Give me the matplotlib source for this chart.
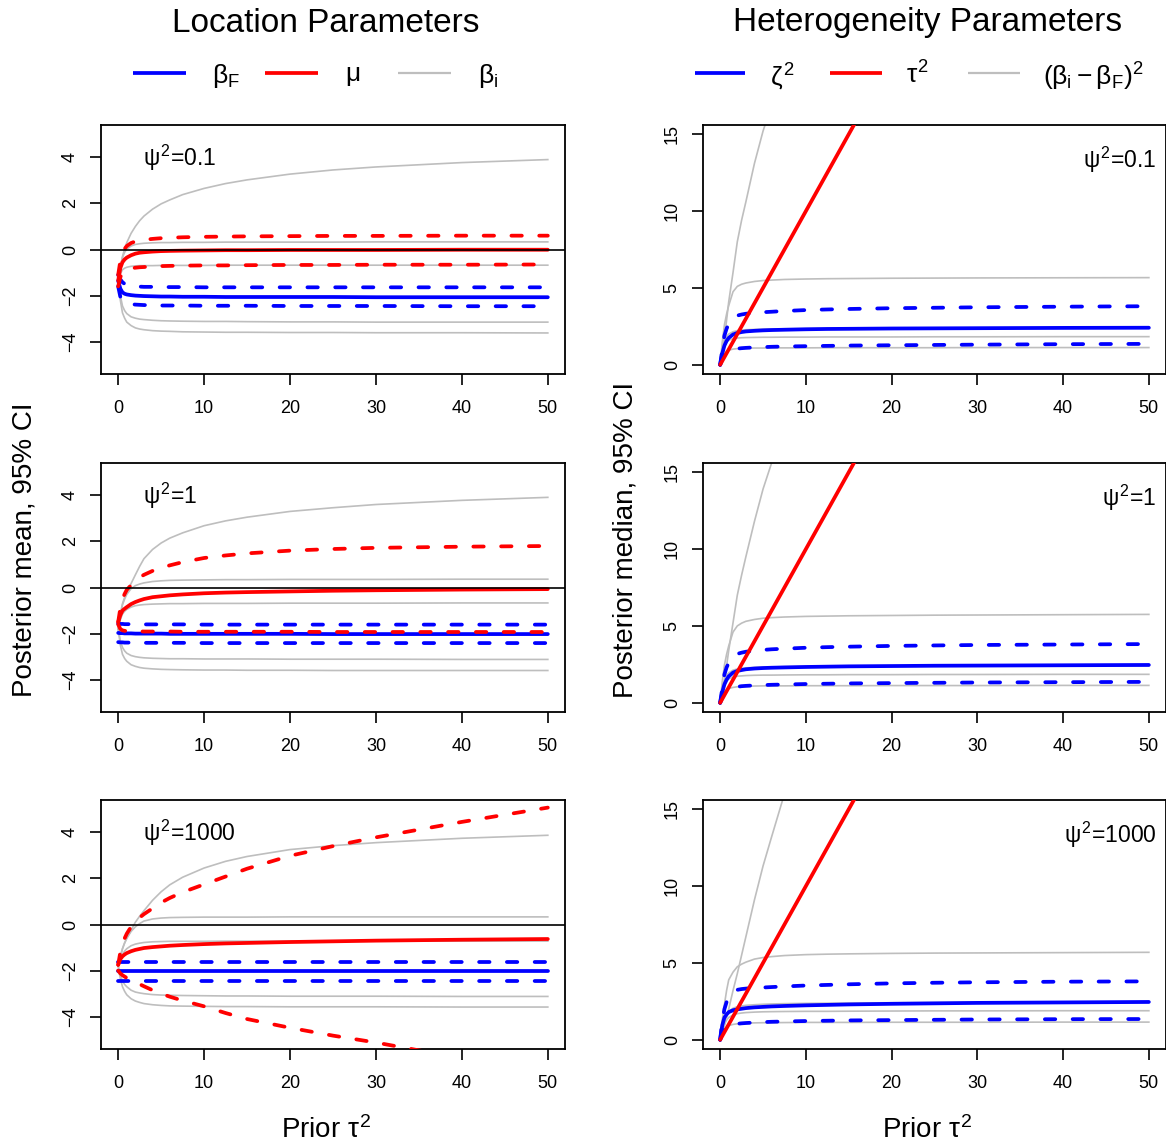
import matplotlib
matplotlib.use('Agg')
import matplotlib.pyplot as plt
from matplotlib.lines import Line2D

plt.rcParams['font.family'] = ['Liberation Sans', 'DejaVu Sans']
plt.rcParams['mathtext.fontset'] = 'custom'
plt.rcParams['mathtext.rm'] = 'Liberation Sans'
plt.rcParams['mathtext.it'] = 'Liberation Sans'
plt.rcParams['mathtext.bf'] = 'Liberation Sans:bold'
plt.rcParams['lines.scale_dashes'] = False

# prior tau^2 grid (x axis of every panel)
tau = [0, 0.25, 0.5, 0.75, 1, 1.5, 2, 2.5, 3, 4, 5, 6, 7.5, 10, 12.5, 15, 20, 25, 30, 40, 50]

psi_labels = ['0.1', '1', '1000']

# ---- location parameters (left column) ----
l1_grey = [
    [-1.4, -0.8, -0.3, 0.02, 0.3, 0.7, 1.0, 1.25, 1.45, 1.75, 1.98, 2.15, 2.38, 2.65, 2.86, 3.02, 3.27, 3.45, 3.58, 3.77, 3.9],
    [-1.4, -0.8, -0.35, -0.12, 0.02, 0.15, 0.22, 0.25, 0.27, 0.29, 0.3, 0.3, 0.31, 0.31, 0.32, 0.32, 0.32, 0.32, 0.33, 0.33, 0.33],
    [-1.4, -1.05, -0.88, -0.81, -0.77, -0.73, -0.71, -0.7, -0.7, -0.7, -0.69, -0.69, -0.69, -0.69, -0.68, -0.68, -0.68, -0.68, -0.68, -0.68, -0.68],
    [-1.4, -2.0, -2.45, -2.65, -2.78, -2.92, -2.98, -3.02, -3.04, -3.07, -3.09, -3.1, -3.11, -3.12, -3.12, -3.13, -3.14, -3.14, -3.15, -3.15, -3.15],
    [-1.4, -2.2, -2.75, -2.98, -3.15, -3.3, -3.4, -3.45, -3.48, -3.52, -3.54, -3.55, -3.57, -3.58, -3.59, -3.59, -3.6, -3.6, -3.61, -3.61, -3.62],
]
l1_blue_mid = [-1.35, -1.7, -1.86, -1.92, -1.95, -1.98, -2.0, -2.01, -2.02, -2.03, -2.04, -2.04, -2.05, -2.05, -2.06, -2.06, -2.06, -2.06, -2.07, -2.07, -2.07]
l1_blue_hi = [-1.1, -1.3, -1.42, -1.49, -1.53, -1.58, -1.6, -1.61, -1.62, -1.62, -1.63, -1.63, -1.63, -1.64, -1.64, -1.64, -1.64, -1.64, -1.64, -1.64, -1.64]
l1_blue_lo = [-1.6, -2.05, -2.2, -2.28, -2.32, -2.37, -2.39, -2.4, -2.41, -2.42, -2.43, -2.43, -2.43, -2.44, -2.44, -2.44, -2.45, -2.45, -2.45, -2.46, -2.46]
l1_red_mid = [-1.35, -0.8, -0.55, -0.43, -0.35, -0.25, -0.18, -0.14, -0.12, -0.09, -0.07, -0.06, -0.05, -0.04, -0.03, -0.03, -0.02, -0.02, -0.02, -0.01, -0.01]
l1_red_hi = [-1.1, -0.5, -0.15, 0.03, 0.15, 0.28, 0.35, 0.39, 0.42, 0.46, 0.49, 0.51, 0.53, 0.55, 0.56, 0.57, 0.58, 0.59, 0.59, 0.6, 0.6]
l1_red_lo = [-1.6, -1.2, -1.0, -0.93, -0.88, -0.82, -0.79, -0.77, -0.76, -0.74, -0.72, -0.71, -0.7, -0.69, -0.69, -0.68, -0.67, -0.67, -0.66, -0.66, -0.65]

l2_grey = [
    [-1.8, -1.15, -0.7, -0.43, -0.22, 0.17, 0.55, 0.92, 1.25, 1.65, 1.93, 2.14, 2.37, 2.68, 2.89, 3.05, 3.3, 3.46, 3.6, 3.78, 3.91],
    [-1.8, -1.2, -0.75, -0.5, -0.3, -0.05, 0.08, 0.15, 0.2, 0.26, 0.29, 0.31, 0.32, 0.33, 0.34, 0.34, 0.35, 0.35, 0.35, 0.36, 0.36],
    [-1.8, -1.4, -1.15, -1.03, -0.95, -0.85, -0.79, -0.76, -0.74, -0.72, -0.71, -0.7, -0.7, -0.69, -0.69, -0.69, -0.68, -0.68, -0.68, -0.67, -0.67],
    [-1.8, -2.3, -2.6, -2.75, -2.85, -2.95, -3.0, -3.03, -3.05, -3.07, -3.08, -3.09, -3.09, -3.1, -3.1, -3.1, -3.11, -3.11, -3.11, -3.12, -3.12],
    [-1.8, -2.5, -2.9, -3.08, -3.2, -3.35, -3.42, -3.47, -3.5, -3.53, -3.55, -3.56, -3.57, -3.58, -3.58, -3.59, -3.59, -3.6, -3.6, -3.6, -3.6],
]
l2_blue_mid = [-1.97, -1.98, -1.98, -1.99, -1.99, -1.99, -2.0, -2.0, -2.0, -2.0, -2.0, -2.01, -2.01, -2.01, -2.01, -2.01, -2.01, -2.02, -2.02, -2.02, -2.02]
l2_blue_hi = [-1.57, -1.58, -1.58, -1.59, -1.59, -1.59, -1.6, -1.6, -1.6, -1.6, -1.6, -1.6, -1.6, -1.61, -1.61, -1.61, -1.61, -1.61, -1.61, -1.61, -1.61]
l2_blue_lo = [-2.37, -2.38, -2.38, -2.39, -2.39, -2.39, -2.4, -2.4, -2.4, -2.4, -2.4, -2.4, -2.4, -2.41, -2.41, -2.41, -2.41, -2.41, -2.41, -2.41, -2.41]
l2_red_mid = [-1.5, -1.2, -1.0, -0.92, -0.85, -0.72, -0.63, -0.56, -0.5, -0.42, -0.38, -0.34, -0.3, -0.25, -0.22, -0.2, -0.17, -0.14, -0.12, -0.09, -0.07]
l2_red_hi = [-1.5, -0.9, -0.5, -0.28, -0.1, 0.1, 0.3, 0.44, 0.55, 0.72, 0.85, 0.96, 1.1, 1.28, 1.39, 1.48, 1.6, 1.67, 1.72, 1.77, 1.8]
l2_red_lo = [-1.6, -1.8, -1.86, -1.88, -1.89, -1.9, -1.9, -1.9, -1.91, -1.91, -1.91, -1.91, -1.92, -1.92, -1.92, -1.92, -1.92, -1.93, -1.93, -1.93, -1.93]

l3_grey = [
    [-1.8, -1.4, -1.05, -0.8, -0.6, -0.25, 0.1, 0.36, 0.6, 1.05, 1.42, 1.72, 2.05, 2.45, 2.74, 2.95, 3.25, 3.42, 3.55, 3.74, 3.87],
    [-1.8, -1.4, -1.05, -0.8, -0.6, -0.3, -0.1, 0.04, 0.15, 0.24, 0.28, 0.3, 0.31, 0.32, 0.32, 0.32, 0.33, 0.33, 0.33, 0.33, 0.33],
    [-1.8, -1.5, -1.3, -1.15, -1.05, -0.92, -0.85, -0.81, -0.78, -0.75, -0.74, -0.73, -0.73, -0.73, -0.72, -0.72, -0.72, -0.72, -0.72, -0.72, -0.72],
    [-1.8, -2.2, -2.45, -2.6, -2.7, -2.85, -2.93, -2.97, -3.0, -3.04, -3.06, -3.07, -3.08, -3.09, -3.1, -3.1, -3.11, -3.11, -3.11, -3.12, -3.12],
    [-1.8, -2.35, -2.7, -2.9, -3.05, -3.22, -3.32, -3.38, -3.43, -3.48, -3.51, -3.53, -3.54, -3.55, -3.56, -3.56, -3.57, -3.57, -3.57, -3.58, -3.58],
]
l3_blue_mid = [-2.03, -2.03, -2.03, -2.03, -2.03, -2.03, -2.03, -2.03, -2.03, -2.03, -2.03, -2.03, -2.03, -2.03, -2.03, -2.03, -2.03, -2.03, -2.03, -2.03, -2.03]
l3_blue_hi = [-1.64, -1.64, -1.64, -1.64, -1.64, -1.64, -1.64, -1.64, -1.64, -1.64, -1.64, -1.64, -1.64, -1.64, -1.64, -1.64, -1.64, -1.64, -1.64, -1.64, -1.64]
l3_blue_lo = [-2.43, -2.43, -2.43, -2.43, -2.43, -2.43, -2.43, -2.43, -2.43, -2.43, -2.43, -2.43, -2.43, -2.43, -2.43, -2.43, -2.43, -2.43, -2.43, -2.43, -2.43]
l3_red_mid = [-1.75, -1.5, -1.38, -1.3, -1.24, -1.16, -1.1, -1.06, -1.02, -0.98, -0.95, -0.92, -0.89, -0.85, -0.82, -0.8, -0.76, -0.73, -0.7, -0.66, -0.63]
l3_red_hi = [-1.75, -1.2, -0.85, -0.6, -0.4, -0.1, 0.12, 0.3, 0.45, 0.7, 0.95, 1.15, 1.4, 1.74, 2.08, 2.42, 2.98, 3.4, 3.78, 4.45, 5.07]
l3_red_lo = [-2.0, -2.12, -2.2, -2.26, -2.32, -2.42, -2.5, -2.59, -2.68, -2.85, -3.0, -3.13, -3.3, -3.55, -3.84, -4.1, -4.48, -4.82, -5.12, -5.8, -6.35]

# ---- heterogeneity parameters (right column) ----
tau2_med = [0, 0.25, 0.5, 0.75, 1, 1.5, 2, 2.5, 3, 4, 5, 6, 7.5, 10, 12.5, 15, 20, 25, 30, 40, 50]

r1_grey = [
    [0, 0.85, 1.75, 2.9, 4.1, 6.0, 8.0, 9.4, 10.6, 13.1, 15.2, 16.9, 19.0, 22.0, 24.2, 25.8, 28.2, 29.9, 31.3, 33.5, 35.2],
    [0, 1.5, 2.6, 3.3, 3.85, 4.75, 5.1, 5.24, 5.32, 5.42, 5.48, 5.51, 5.55, 5.58, 5.6, 5.61, 5.63, 5.64, 5.65, 5.66, 5.67],
    [0, 0.8, 1.3, 1.48, 1.6, 1.7, 1.74, 1.76, 1.77, 1.78, 1.79, 1.79, 1.8, 1.8, 1.81, 1.81, 1.81, 1.82, 1.82, 1.83, 1.83],
    [0, 0.5, 0.8, 0.9, 0.95, 1.02, 1.05, 1.07, 1.08, 1.09, 1.09, 1.1, 1.1, 1.1, 1.11, 1.11, 1.11, 1.11, 1.12, 1.12, 1.12],
    [0, 1.0, 1.6, 1.85, 2.0, 2.15, 2.22, 2.26, 2.28, 2.3, 2.32, 2.33, 2.34, 2.35, 2.36, 2.36, 2.37, 2.38, 2.38, 2.39, 2.4],
]
r1_blue_mid = [0, 0.75, 1.25, 1.55, 1.75, 1.97, 2.07, 2.13, 2.17, 2.21, 2.24, 2.26, 2.28, 2.31, 2.33, 2.34, 2.36, 2.37, 2.38, 2.4, 2.41]
r1_blue_hi = [0, 1.0, 1.9, 2.35, 2.65, 3.05, 3.2, 3.27, 3.32, 3.38, 3.42, 3.45, 3.5, 3.56, 3.6, 3.63, 3.68, 3.71, 3.74, 3.78, 3.81]
r1_blue_lo = [0, 0.35, 0.65, 0.8, 0.9, 1.0, 1.05, 1.08, 1.1, 1.13, 1.15, 1.17, 1.19, 1.21, 1.23, 1.25, 1.27, 1.29, 1.31, 1.34, 1.36]

r2_grey = [
    [0, 0.6, 1.4, 2.4, 3.4, 5.2, 7.0, 8.3, 9.5, 11.8, 13.9, 15.6, 18.0, 21.2, 23.5, 25.3, 27.8, 29.6, 31.0, 33.3, 35.0],
    [0, 1.4, 2.45, 3.15, 3.7, 4.6, 5.0, 5.18, 5.3, 5.42, 5.5, 5.54, 5.58, 5.62, 5.64, 5.66, 5.68, 5.7, 5.71, 5.73, 5.75],
    [0, 0.7, 1.2, 1.42, 1.55, 1.68, 1.73, 1.75, 1.77, 1.79, 1.8, 1.8, 1.81, 1.82, 1.82, 1.83, 1.83, 1.84, 1.84, 1.85, 1.85],
    [0, 0.45, 0.75, 0.86, 0.93, 1.0, 1.04, 1.06, 1.07, 1.09, 1.1, 1.1, 1.1, 1.11, 1.11, 1.11, 1.12, 1.12, 1.12, 1.13, 1.13],
    [0, 0.9, 1.5, 1.78, 1.95, 2.12, 2.2, 2.24, 2.27, 2.3, 2.32, 2.33, 2.35, 2.36, 2.37, 2.38, 2.39, 2.4, 2.41, 2.42, 2.43],
]
r2_blue_mid = [0, 0.7, 1.2, 1.5, 1.72, 1.96, 2.07, 2.13, 2.18, 2.23, 2.26, 2.28, 2.3, 2.33, 2.35, 2.37, 2.39, 2.41, 2.42, 2.44, 2.46]
r2_blue_hi = [0, 0.95, 1.85, 2.3, 2.6, 3.0, 3.18, 3.26, 3.32, 3.39, 3.44, 3.48, 3.52, 3.58, 3.62, 3.65, 3.7, 3.73, 3.76, 3.79, 3.82]
r2_blue_lo = [0, 0.33, 0.62, 0.78, 0.88, 0.98, 1.04, 1.08, 1.1, 1.13, 1.15, 1.17, 1.19, 1.22, 1.24, 1.26, 1.28, 1.3, 1.32, 1.34, 1.36]

r3_grey = [
    [0, 0.4, 0.9, 1.45, 2.0, 3.2, 4.3, 5.5, 6.7, 9.1, 11.3, 13.2, 16.0, 19.6, 22.2, 24.0, 26.8, 28.8, 30.4, 32.8, 34.6],
    [0, 1.3, 2.3, 3.2, 3.9, 4.4, 4.75, 4.92, 5.05, 5.25, 5.35, 5.41, 5.48, 5.54, 5.57, 5.59, 5.62, 5.64, 5.65, 5.67, 5.69],
    [0, 0.6, 1.05, 1.28, 1.45, 1.62, 1.7, 1.74, 1.77, 1.8, 1.82, 1.83, 1.84, 1.85, 1.85, 1.86, 1.87, 1.88, 1.88, 1.89, 1.89],
    [0, 0.4, 0.7, 0.83, 0.92, 1.0, 1.04, 1.06, 1.08, 1.1, 1.11, 1.11, 1.12, 1.13, 1.13, 1.13, 1.14, 1.14, 1.14, 1.15, 1.15],
    [0, 0.8, 1.35, 1.65, 1.85, 2.05, 2.15, 2.2, 2.24, 2.28, 2.31, 2.33, 2.35, 2.37, 2.38, 2.39, 2.41, 2.42, 2.43, 2.45, 2.46],
]
r3_blue_mid = [0, 0.95, 1.45, 1.65, 1.8, 1.92, 1.98, 2.02, 2.06, 2.11, 2.14, 2.17, 2.2, 2.24, 2.27, 2.3, 2.34, 2.37, 2.4, 2.43, 2.46]
r3_blue_hi = [0, 1.2, 2.0, 2.45, 2.75, 3.1, 3.25, 3.3, 3.33, 3.37, 3.4, 3.43, 3.47, 3.53, 3.57, 3.61, 3.67, 3.71, 3.74, 3.78, 3.8]
r3_blue_lo = [0, 0.4, 0.68, 0.82, 0.9, 0.99, 1.04, 1.07, 1.09, 1.12, 1.15, 1.17, 1.19, 1.22, 1.24, 1.26, 1.28, 1.3, 1.32, 1.34, 1.35]

left_panels = [
    (l1_grey, l1_blue_mid, l1_blue_lo, l1_blue_hi, l1_red_mid, l1_red_lo, l1_red_hi),
    (l2_grey, l2_blue_mid, l2_blue_lo, l2_blue_hi, l2_red_mid, l2_red_lo, l2_red_hi),
    (l3_grey, l3_blue_mid, l3_blue_lo, l3_blue_hi, l3_red_mid, l3_red_lo, l3_red_hi),
]
right_panels = [
    (r1_grey, r1_blue_mid, r1_blue_lo, r1_blue_hi),
    (r2_grey, r2_blue_mid, r2_blue_lo, r2_blue_hi),
    (r3_grey, r3_blue_mid, r3_blue_lo, r3_blue_hi),
]

BLUE = '#0000FF'
RED = '#FF0000'
GREY = '#BEBEBE'
LW = 2.7
GLW = 1.2
DASH = (0, (7.5, 12.5))

W, H = 1166, 1148
fig = plt.figure(figsize=(W / 100, H / 100), dpi=100)


def fx(px):
    return px / W


def fy(py):
    return 1 - py / H


def style_axes(ax, yticks):
    ax.set_xlim(-2, 52)
    ax.set_xticks([0, 10, 20, 30, 40, 50])
    ax.set_yticks(yticks)
    ax.tick_params(direction='out', length=8, width=1.2, labelsize=13)
    ax.tick_params(axis='x', pad=11)
    ax.tick_params(axis='y', pad=8)
    for lab in ax.get_yticklabels():
        lab.set_rotation(90)
        lab.set_va('center')
    for sp in ax.spines.values():
        sp.set_linewidth(1.3)


def dline(ax, x, y, color, dashed=False, z=2):
    kw = dict(color=color, lw=LW, zorder=z, solid_capstyle='round',
              dash_capstyle='round')
    if dashed:
        kw['linestyle'] = DASH
    ax.plot(x, y, **kw)


row_tops = [125, 463, 800]
ph = 249

for i, top in enumerate(row_tops):
    # left: location parameters
    ax = fig.add_axes([fx(101), fy(top + ph), fx(464), ph / H])
    grey, bm, blo, bhi, rm, rlo, rhi = left_panels[i]
    for g in grey:
        ax.plot(tau, g, color=GREY, lw=GLW, zorder=1)
    dline(ax, tau, bm, BLUE)
    dline(ax, tau, blo, BLUE, dashed=True)
    dline(ax, tau, bhi, BLUE, dashed=True)
    dline(ax, tau, rm, RED, z=3)
    dline(ax, tau, rlo, RED, dashed=True, z=3)
    dline(ax, tau, rhi, RED, dashed=True, z=3)
    ax.axhline(0, color='black', lw=1.2, zorder=4)
    ax.set_ylim(-5.4, 5.4)
    style_axes(ax, [-4, -2, 0, 2, 4])
    ax.text(0.09, 0.867, r'$\psi^2$=' + psi_labels[i], transform=ax.transAxes,
            ha='left', va='center', fontsize=16.5)

    # right: heterogeneity parameters
    ax = fig.add_axes([fx(703), fy(top + ph), fx(463), ph / H])
    grey, bm, blo, bhi = right_panels[i]
    for g in grey:
        ax.plot(tau, g, color=GREY, lw=GLW, zorder=1)
    dline(ax, tau, bm, BLUE)
    dline(ax, tau, blo, BLUE, dashed=True)
    dline(ax, tau, bhi, BLUE, dashed=True)
    dline(ax, tau, tau2_med, RED, z=3)
    ax.set_ylim(-0.6, 15.6)
    style_axes(ax, [0, 5, 10, 15])
    ax.text(0.98, 0.859, r'$\psi^2$=' + psi_labels[i], transform=ax.transAxes,
            ha='right', va='center', fontsize=16.5)

# titles
fig.text(fx(326), fy(23), 'Location Parameters', ha='center', va='center', fontsize=24)
fig.text(fx(928), fy(23), 'Heterogeneity Parameters', ha='center', va='center', fontsize=24)

# legends drawn above each column
leg_items = [
    (133, 186, BLUE, LW, 212, r'$\beta_F$'),
    (265, 318, RED, LW, 345, r'$\mu$'),
    (398, 451, GREY, GLW + 0.4, 478, r'$\beta_i$'),
    (695, 745, BLUE, LW, 770, r'$\zeta^2$'),
    (830, 882, RED, LW, 906, r'$\tau^2$'),
    (968, 1020, GREY, GLW + 0.4, 1043, r'$(\beta_i - \beta_F)^2$'),
]
for x0, x1, col, lw, tx, lab in leg_items:
    fig.add_artist(Line2D([fx(x0), fx(x1)], [fy(73), fy(73)], color=col, lw=lw,
                          transform=fig.transFigure, solid_capstyle='butt'))
    fig.text(fx(tx), fy(73), lab, ha='left', va='center_baseline', fontsize=19)

# axis labels
fig.text(fx(25), fy(550), 'Posterior mean, 95% CI', rotation=90,
         ha='center', va='center', fontsize=20)
fig.text(fx(625), fy(540), 'Posterior median, 95% CI', rotation=90,
         ha='center', va='center', fontsize=20)
fig.text(fx(326), fy(1130), r'Prior $\tau^2$', ha='center', va='center', fontsize=20)
fig.text(fx(927), fy(1130), r'Prior $\tau^2$', ha='center', va='center', fontsize=20)

fig.savefig('out.png', dpi=100)
